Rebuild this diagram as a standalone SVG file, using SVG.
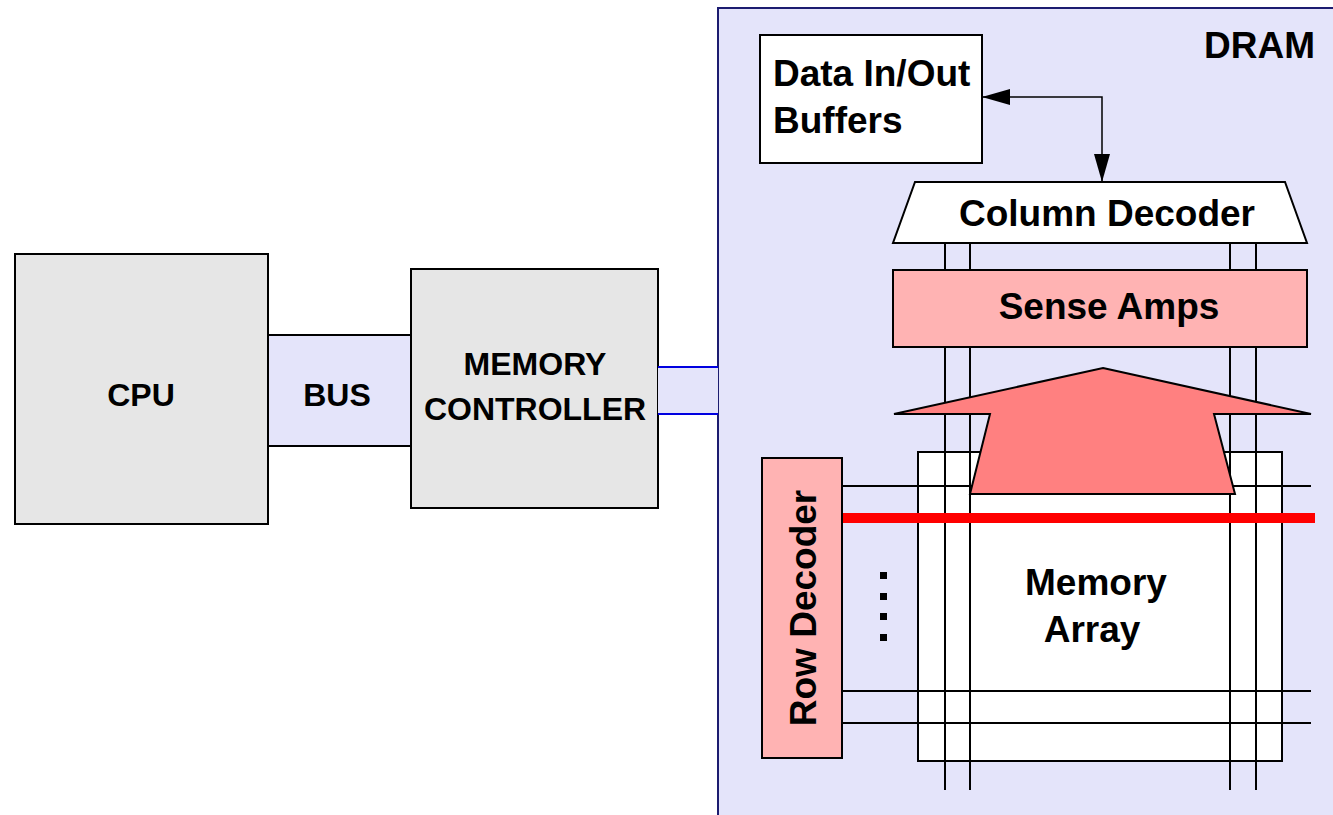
<svg xmlns="http://www.w3.org/2000/svg" width="1333" height="815" viewBox="0 0 1333 815">
<defs>
<style>
.t{font-family:"Liberation Sans",Arial,Helvetica,sans-serif;font-weight:bold;font-size:32px;fill:#000}
.d{font-size:37px}
.m{text-anchor:middle}
.box{stroke:#000;stroke-width:2}
.gray{fill:#e6e6e6}
.lav{fill:#e4e4fa}
.pink{fill:#ffb3b3}
.wire{stroke:#000;stroke-width:2;fill:none}
</style>
<marker id="ah" viewBox="0 0 28 16" refX="28" refY="8" markerWidth="28" markerHeight="16" markerUnits="userSpaceOnUse" orient="auto-start-reverse">
<path d="M0,0 L28,8 L0,16 Z" fill="#000"/>
</marker>
</defs>
<rect width="1333" height="815" fill="#fff"/>

<g id="dram">
<rect x="718" y="8" width="640" height="830" fill="#e4e4fa" stroke="#1c1c70" stroke-width="2"/>
<text class="t d" x="1315" y="58" text-anchor="end">DRAM</text>
</g>

<g id="cpu">
<rect class="box gray" x="15" y="254" width="253" height="270"/>
<text class="t m" x="141" y="406">CPU</text>
</g>

<g id="bus">
<rect class="box lav" x="268" y="335" width="143" height="111"/>
<text class="t m" x="337" y="406">BUS</text>
</g>

<g id="memory-controller">
<rect class="box gray" x="411" y="269" width="247" height="239"/>
<text class="t m" x="535" y="375">MEMORY</text>
<text class="t m" x="535" y="420">CONTROLLER</text>
</g>

<g id="dram-bus">
<rect x="658" y="367" width="60" height="47" fill="#e4e4fa"/>
<line x1="658" y1="367" x2="718" y2="367" stroke="#0000e0" stroke-width="2"/>
<line x1="658" y1="414" x2="718" y2="414" stroke="#0000e0" stroke-width="2"/>
</g>

<g id="memory-array">
<rect class="box" x="918" y="452" width="364" height="309" fill="#fff"/>
<text class="t d m" x="1096" y="595">Memory</text>
<text class="t d m" x="1092" y="642">Array</text>
</g>

<g id="connectors">
<g class="wire">
<line x1="945" y1="243" x2="945" y2="790"/>
<line x1="970" y1="243" x2="970" y2="790"/>
<line x1="1230" y1="243" x2="1230" y2="790"/>
<line x1="1256" y1="243" x2="1256" y2="790"/>
<line x1="843" y1="486" x2="1311" y2="486"/>
<line x1="843" y1="691" x2="1311" y2="691"/>
<line x1="843" y1="723" x2="1311" y2="723"/>
</g>
<line x1="840" y1="518" x2="1315" y2="518" stroke="#ff0000" stroke-width="10"/>
<path d="M982,97 H1102 V182" fill="none" stroke="#000" stroke-width="1.5" marker-start="url(#ah)" marker-end="url(#ah)"/>
<polygon points="1103,368 1311,414 1214,414 1235,494 970,494 990,414 894,414" fill="#ff8080" stroke="#000" stroke-width="2"/>
</g>

<g id="data-buffers">
<rect class="box" x="760" y="35" width="222" height="128" fill="#fff"/>
<text class="t d" x="773" y="86">Data In/Out</text>
<text class="t d" x="773" y="133">Buffers</text>
</g>

<g id="column-decoder">
<polygon class="box" points="915,182 1285,182 1307,243 893,243" fill="#fff"/>
<text class="t d m" x="1107" y="226">Column Decoder</text>
</g>

<g id="sense-amps">
<rect class="box pink" x="893" y="270" width="414" height="77"/>
<text class="t d m" x="1109" y="319">Sense Amps</text>
</g>

<g id="row-decoder">
<rect class="box pink" x="762" y="458" width="80" height="300"/>
<text class="t d m" transform="translate(816,608) rotate(-90)">Row Decoder</text>
</g>

<g id="ellipsis" fill="#000">
<rect x="880" y="572" width="7" height="7"/>
<rect x="880" y="593" width="7" height="7"/>
<rect x="880" y="613" width="7" height="7"/>
<rect x="880" y="634" width="7" height="7"/>
</g>
</svg>
